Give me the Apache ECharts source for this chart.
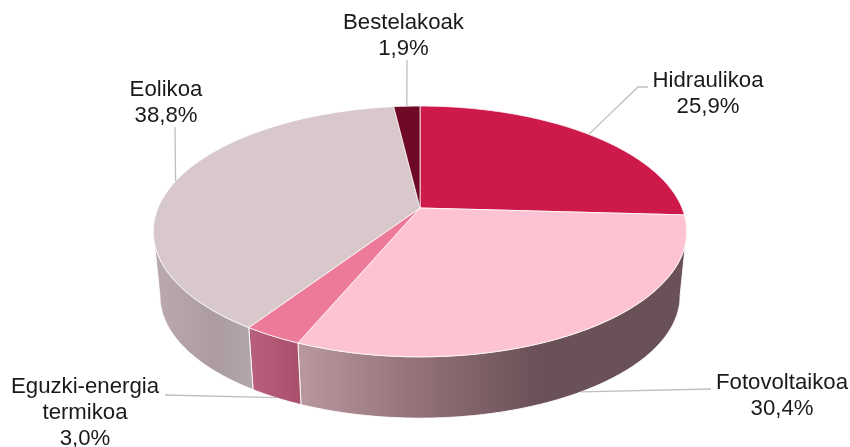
<!DOCTYPE html>
<html>
<head>
<meta charset="utf-8">
<style>html,body{margin:0;padding:0;background:#fff}#c{width:850px;height:447px}</style>
<script src="https://cdn.jsdelivr.net/npm/echarts@6/dist/echarts.min.js"></script>
</head>
<body>
<div id="c"></div>
<script>
// Data
var categories = ['Hidraulikoa', 'Fotovoltaikoa', 'Eguzki-energia\ntermikoa', 'Eolikoa', 'Bestelakoak'];
var shares = [25.9, 30.4, 3.0, 38.8, 1.9];

// Styles
var topColors = ['#CE1A4A', '#FDC3D3', '#EE7A99', '#D8C8CC', '#6E0A25'];
var wallStops = [
  null,
  [[0, '#BA98A0'], [0.3, '#94727A'], [0.62, '#6A5157'], [1, '#6A5157']],
  [[0, '#B8607C'], [1, '#A94F6C']],
  [[0, '#BBA9AE'], [0.6, '#AC9CA1'], [1, '#B3A6AB']],
  null
];
// Label placement: text centre and leader elbow points; onWall = leader meets the lower rim
var labelLayout = [
  {x: 708, y: 93.5, elbow: [[638, 87], [648, 87]]},
  {x: 782, y: 395.5, elbow: [[711, 389]], onWall: true},
  {x: 85, y: 412.5, elbow: [[165, 395]], onWall: true},
  {x: 166, y: 102.5, elbow: [[175, 127]]},
  {x: 403.5, y: 35.5, elbow: [[407, 60]]}
];

// Projection of a tilted disc: circle -> screen under perspective
var K = 0.187, CX = 420;
var TOP = {y0: 208, a: 262, b: 121};
var RIM = {y0: 273, a: 255.5, b: 118};
var WALL_FROM = 100.8, WALL_TO = 259.2;
function project(plane, deg) {
  var t = deg * Math.PI / 180, u = Math.sin(t), v = -Math.cos(t), w = 1 - K * v;
  return [CX + plane.a * u / w, plane.y0 + plane.b * v / w];
}
function arc(plane, from, to) {
  var pts = [], n = Math.max(2, Math.ceil(Math.abs(to - from) * 2));
  for (var i = 0; i <= n; i++) pts.push(project(plane, from + (to - from) * i / n));
  return pts;
}
var total = shares.reduce(function (a, b) { return a + b; }, 0);
function angles(idx) {
  var before = 0;
  for (var i = 0; i < idx; i++) before += shares[i];
  return [before / total * 360, (before + shares[idx]) / total * 360];
}
var seriesData = shares.map(function (v, i) { return {value: [v], name: categories[i]}; });

function renderWall(params) {
  var i = params.dataIndex, a = angles(i);
  var from = Math.max(a[0], WALL_FROM), to = Math.min(a[1], WALL_TO);
  if (to <= from || !wallStops[i]) return {type: 'group', children: []};
  var pts = arc(TOP, from, to).concat(arc(RIM, to, from));
  // Walls run right-to-left as the angle grows; stops are listed left-to-right in screen order
  return {
    type: 'polygon',
    shape: {points: pts},
    style: {
      fill: new echarts.graphic.LinearGradient(0, 0, 1, 0,
        wallStops[i].map(function (s) { return {offset: s[0], color: s[1]}; })),
      stroke: 'rgba(255,255,255,0.9)',
      lineWidth: 1
    }
  };
}
function renderTop(params) {
  var i = params.dataIndex, a = angles(i);
  var pts = [[CX, TOP.y0]].concat(arc(TOP, a[0], a[1]));
  return {
    type: 'polygon',
    shape: {points: pts},
    style: {fill: topColors[i], stroke: 'rgba(255,255,255,0.75)', lineWidth: 1}
  };
}
function renderLabel(params, api) {
  var i = params.dataIndex, a = angles(i), l = labelLayout[i];
  var mid = (a[0] + a[1]) / 2;
  var start = project(l.onWall ? RIM : TOP, mid);
  var text = categories[i] + '\n' + api.value(0).toFixed(1).replace('.', ',') + '%';
  return {
    type: 'group',
    children: [
      {type: 'polyline', shape: {points: [start].concat(l.elbow)},
       style: {fill: null, stroke: '#BFBFBF', lineWidth: 1.3}},
      {type: 'text', style: {
        text: text, x: l.x, y: l.y, align: 'center', verticalAlign: 'middle',
        fill: '#1A1A1A', font: '22.2px "Liberation Sans", Arial, sans-serif', lineHeight: 26
      }}
    ]
  };
}
var chart = echarts.init(document.getElementById('c'), null, {renderer: 'canvas'});
chart.setOption({
  animation: false,
  backgroundColor: '#fff',
  series: [
    {type: 'custom', coordinateSystem: 'none', z: 1, renderItem: renderWall, data: seriesData, silent: true},
    {type: 'custom', coordinateSystem: 'none', z: 2, renderItem: renderTop, data: seriesData, silent: true},
    {type: 'custom', coordinateSystem: 'none', z: 3, renderItem: renderLabel, data: seriesData, silent: true}
  ]
});
</script>
</body>
</html>
